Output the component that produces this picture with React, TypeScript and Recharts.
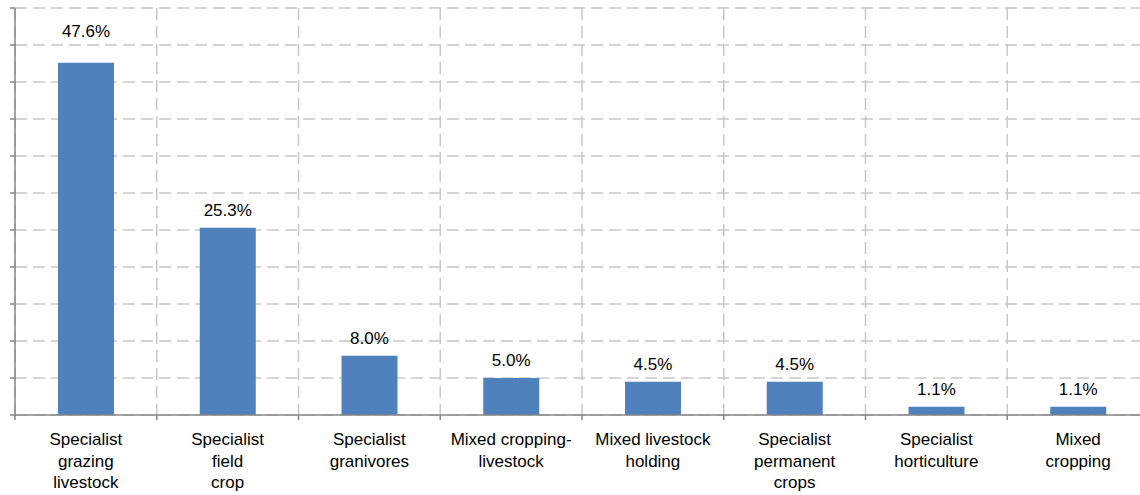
import React from 'react';
import { BarChart, Bar, XAxis, YAxis, CartesianGrid, LabelList } from 'recharts';

const categories = [
  'Specialist grazing livestock',
  'Specialist field crop',
  'Specialist granivores',
  'Mixed cropping-livestock',
  'Mixed livestock holding',
  'Specialist permanent crops',
  'Specialist horticulture',
  'Mixed cropping',
];

// how each category label wraps under the axis
const tickLines = [
  ['Specialist', 'grazing', 'livestock'],
  ['Specialist', 'field', 'crop'],
  ['Specialist', 'granivores'],
  ['Mixed cropping-', 'livestock'],
  ['Mixed livestock', 'holding'],
  ['Specialist', 'permanent', 'crops'],
  ['Specialist', 'horticulture'],
  ['Mixed', 'cropping'],
];

const shares = [47.6, 25.3, 8.0, 5.0, 4.5, 4.5, 1.1, 1.1];

const yTicks = [0, 5, 10, 15, 20, 25, 30, 35, 40, 45, 50, 55];

const data = categories.map((name, i) => ({ name, value: shares[i], idx: i }));

const FONT = '"Liberation Sans", Arial, sans-serif';
const AXIS = '#868686';
const GRID = '#c8c8c8';

const CHART_W = 1149;
const CHART_H = 495;

const NoLabel = () => <g />;

const CategoryTick = (props: any) => {
  const { x, y, payload, index } = props;
  const half = payload && payload.offset ? payload.offset : (CHART_W - 15) / 16;
  const lines = tickLines[index] || [String(payload.value)];
  return (
    <g>
      <line x1={x - half} y1={y} x2={x - half} y2={y + 5} stroke={AXIS} strokeWidth={1.5} />
      <text x={x} y={y + 30} textAnchor="middle" fontSize={17} fontFamily={FONT} fill="#000">
        {lines.map((l, i) => (
          <tspan key={i} x={x} dy={i === 0 ? 0 : 21.5}>{l}</tspan>
        ))}
      </text>
    </g>
  );
};

const ValueLabel = (props: any) => {
  const { x, y, width, value, index } = props;
  // first label sits a bit higher in the original
  const off = index === 0 ? 26 : 12;
  return (
    <text x={x + width / 2} y={y - off} textAnchor="middle" fontSize={17} fontFamily={FONT} fill="#000">
      {Number(value).toFixed(1)}%
    </text>
  );
};

const App = () => {
  return (
    <div style={{ position: 'fixed', left: 0, top: 0, width: 1140, height: CHART_H, overflow: 'hidden', background: '#fff' }}>
      <BarChart width={CHART_W} height={CHART_H} data={data} margin={{ top: 8, right: 0, bottom: 0, left: 0 }}>
        <CartesianGrid
          stroke={GRID}
          strokeWidth={1.5}
          strokeDasharray="12 6"
          verticalCoordinatesGenerator={({ offset }: any) =>
            categories.map((_, i) => offset.left + (i * offset.width) / categories.length)
          }
        />
        <YAxis
          width={15}
          domain={[0, 55]}
          ticks={yTicks}
          interval={0}
          tick={<NoLabel />}
          tickSize={5}
          tickMargin={0}
          axisLine={{ stroke: AXIS, strokeWidth: 1.5 }}
          tickLine={{ stroke: AXIS, strokeWidth: 1.5 }}
        />
        <XAxis
          dataKey="name"
          height={80}
          interval={0}
          tickSize={0}
          tickMargin={0}
          tickLine={false}
          axisLine={{ stroke: AXIS, strokeWidth: 1.5 }}
          tick={<CategoryTick />}
        />
        <Bar dataKey="value" fill="#4f81bd" barSize={56} isAnimationActive={false}>
          <LabelList dataKey="value" content={<ValueLabel />} />
        </Bar>
      </BarChart>
    </div>
  );
};

export default App;
